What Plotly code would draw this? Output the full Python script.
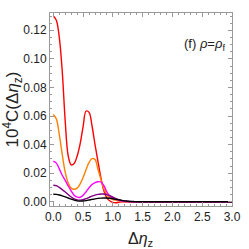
import plotly.graph_objects as go

x_vals = [0.00, 0.05, 0.10, 0.15, 0.20, 0.25, 0.30, 0.35, 0.40, 0.45, 0.50, 0.55, 0.60, 0.65, 0.70,
          0.75, 0.80, 0.85, 0.90, 0.95, 1.00, 1.05, 1.10, 1.15, 1.20, 1.25, 1.30, 1.35, 1.40, 1.45,
          1.50, 2.00, 2.50, 3.00]

red = [0.1300, 0.1270, 0.1150, 0.0910, 0.0560, 0.0320, 0.0258, 0.0268, 0.0320, 0.0405, 0.0525,
       0.0635, 0.0625, 0.0530, 0.0400, 0.0280, 0.0165, 0.0075, 0.0025, 0.0005, -0.0005, -0.0007,
       -0.0004, -0.0001, 0.0, 0.0, 0.0, 0.0, 0.0, 0.0, 0.0, 0.0, 0.0, 0.0]
orange = [0.0610, 0.0580, 0.0470, 0.0330, 0.0205, 0.0130, 0.0095, 0.0087, 0.0095, 0.0125, 0.0170,
          0.0225, 0.0275, 0.0302, 0.0295, 0.0225, 0.0155, 0.0090, 0.0050, 0.0027, 0.0015, 0.0010,
          0.0006, 0.0003, 0.0001, 0.0, 0.0, 0.0, 0.0, 0.0, 0.0, 0.0, 0.0, 0.0]
magenta = [0.0284, 0.0270, 0.0230, 0.0185, 0.0150, 0.0110, 0.0075, 0.0045, 0.0032, 0.0031, 0.0045,
           0.0070, 0.0098, 0.0120, 0.0134, 0.0140, 0.0138, 0.0112, 0.0068, 0.0040, 0.0025, 0.0017,
           0.0010, 0.0005, 0.0002, 0.0001, 0.0, 0.0, 0.0, 0.0, 0.0, 0.0, 0.0, 0.0]
purple = [0.0115, 0.0112, 0.0100, 0.0085, 0.0068, 0.0050, 0.0033, 0.0020, 0.0013, 0.0011, 0.0014,
          0.0021, 0.0030, 0.0039, 0.0046, 0.0051, 0.0054, 0.0054, 0.0050, 0.0042, 0.0032, 0.0022,
          0.0014, 0.0008, 0.0004, 0.0002, 0.0001, 0.0, 0.0, 0.0, 0.0, 0.0, 0.0, 0.0]
black = [0.0052, 0.0051, 0.0047, 0.0041, 0.0034, 0.0026, 0.0018, 0.0011, 0.0006, 0.0004, 0.0005,
         0.0008, 0.0012, 0.0016, 0.0020, 0.0023, 0.0025, 0.0026, 0.0026, 0.0024, 0.0021, 0.0017,
         0.0013, 0.0009, 0.0006, 0.0004, 0.0002, 0.0001, 0.0, 0.0, 0.0, 0.0, 0.0, 0.0]

series = [
    (red, "#ff0000"),
    (orange, "#ff8000"),
    (magenta, "#ff00ff"),
    (purple, "#800080"),
    (black, "#000000"),
]

fig = go.Figure()
for ys, col in series:
    fig.add_trace(go.Scatter(x=x_vals, y=ys, mode="lines",
                             line=dict(color=col, width=1.4, shape="spline", smoothing=1.0),
                             showlegend=False, hoverinfo="skip"))

frame = "#999999"
fig.update_layout(
    width=249, height=249,
    margin=dict(l=50, r=8, t=13, b=43),
    paper_bgcolor="white", plot_bgcolor="white",
    font=dict(family="Liberation Sans, Arial, sans-serif", size=12, color="#222222"),
    xaxis=dict(range=[-0.056, 3.0], tick0=0, dtick=0.5, tickformat=".1f",
               ticklabeloverflow="allow",
               showgrid=False, zeroline=False, showline=True, linecolor=frame, linewidth=1,
               mirror="ticks", ticks="inside", ticklen=4, tickcolor=frame,
               minor=dict(dtick=0.1, tick0=0, ticks="inside", ticklen=2, tickcolor=frame)),
    yaxis=dict(range=[-0.003, 0.1321], tick0=0, dtick=0.02, tickformat=".2f",
               ticklabeloverflow="allow",
               showgrid=False, zeroline=False, showline=True, linecolor=frame, linewidth=1,
               mirror="ticks", ticks="inside", ticklen=4, tickcolor=frame,
               minor=dict(dtick=0.005, tick0=0, ticks="inside", ticklen=2, tickcolor=frame),
               title=dict(text="10<sup>4</sup>C(Δ<i>η</i><sub>z</sub>)", font=dict(size=17), standoff=3)),
    annotations=[
        dict(x=0.97, y=0.835, xref="paper", yref="paper", xanchor="right", yanchor="middle",
             text="(f) <i>ρ</i>=<i>ρ</i><sub>f</sub>", showarrow=False,
             font=dict(size=13, color="#222222")),
        dict(x=0.5, y=-0.175, xref="paper", yref="paper", xanchor="center", yanchor="middle",
             text="Δ<i>η</i><sub>z</sub>", showarrow=False,
             font=dict(size=16, color="#222222")),
    ],
)

fig.write_html("out.html", config={"displayModeBar": False},
               post_script="document.body.style.margin='0';document.body.style.overflow='hidden';")
